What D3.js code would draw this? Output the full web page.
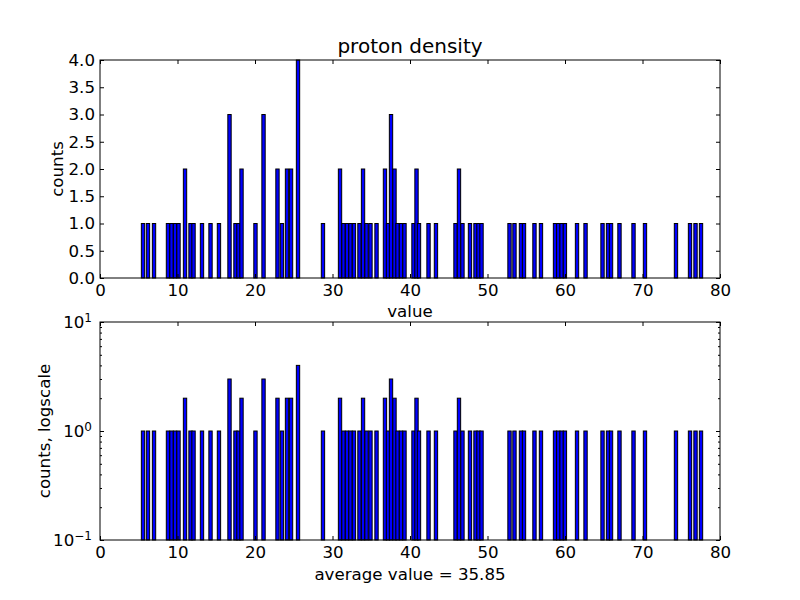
<!DOCTYPE html>
<html>
<head>
<meta charset="utf-8">
<script src="https://cdn.jsdelivr.net/npm/d3@7"></script>
<style>
  body { margin: 0; background: #fff; }
  svg { font-family: "DejaVu Sans", sans-serif; }
</style>
</head>
<body>
<svg id="chart" width="800" height="600"></svg>
<script>
// ---- data ----
const title = "proton density";
const binWidth = 0.43;
const binCenters = [
  5.55, 6.19, 6.97, 8.77, 9.23, 9.68, 10.13, 10.97, 11.68, 12.07, 13.16, 14.26, 15.35,
  16.71, 17.48, 17.87, 18.26, 20.06, 21.10, 22.90, 23.48, 24.13, 24.65, 25.55,
  28.77, 30.97, 31.42, 31.87, 32.32, 32.77, 33.48, 33.94, 34.39, 34.90, 35.68,
  36.77, 37.16, 37.55, 38.00, 38.39, 38.84, 39.29, 40.45, 40.84, 41.16, 42.39, 43.35,
  45.87, 46.32, 46.77, 47.74, 48.45, 48.84, 49.23,
  52.84, 53.48, 54.32, 54.71, 56.06, 56.90, 58.71, 59.13, 59.56, 59.99, 61.55, 62.65,
  64.84, 65.55, 65.94, 67.03, 68.84, 70.32, 74.32, 76.13, 76.84, 77.55
];
const binCounts = [
  1, 1, 1, 1, 1, 1, 1, 2, 1, 1, 1, 1, 1,
  3, 1, 1, 2, 1, 3, 2, 1, 2, 2, 4,
  1, 2, 1, 1, 1, 1, 1, 2, 1, 1, 1,
  2, 1, 3, 2, 1, 1, 1, 1, 2, 1, 1, 1,
  1, 2, 1, 1, 1, 1, 1,
  1, 1, 1, 1, 1, 1, 1, 1, 1, 1, 1, 1,
  1, 1, 1, 1, 1, 1, 1, 1, 1, 1
];
const xTicks = [0, 10, 20, 30, 40, 50, 60, 70, 80];
const yTicksLin = [0, 0.5, 1, 1.5, 2, 2.5, 3, 3.5, 4];
const yTicksLogMajor = [0.1, 1, 10];
const yTicksLogMinor = [0.2,0.3,0.4,0.5,0.6,0.7,0.8,0.9,2,3,4,5,6,7,8,9];
const averageLabel = "average value = 35.85";

const bins = binCenters.map((c, i) => ({ c, n: binCounts[i] }));

const svg = d3.select("#chart");
const fs = 16.67;

const L = 100, R = 720;
const x = d3.scaleLinear().domain([0, 80]).range([L, R]);

function frame(g, top, bottom) {
  g.append("rect").attr("x", L).attr("y", top).attr("width", R - L).attr("height", bottom - top)
    .attr("fill", "none").attr("stroke", "#000").attr("stroke-width", 1);
}
function styleAxis(sel) {
  sel.select(".domain").remove();
  sel.selectAll("text").attr("font-size", fs).attr("fill", "#000").attr("font-family", "DejaVu Sans");
  sel.selectAll("line").attr("stroke", "#000");
}
function xAxes(g, top, bottom) {
  g.append("g").attr("transform", `translate(0,${bottom})`)
    .call(d3.axisBottom(x).tickValues(xTicks).tickFormat(d3.format("d")).tickSizeInner(-4).tickSizeOuter(0).tickPadding(6))
    .call(styleAxis);
  g.append("g").attr("transform", `translate(0,${top})`)
    .call(d3.axisTop(x).tickValues(xTicks).tickFormat("").tickSizeInner(-4).tickSizeOuter(0))
    .call(styleAxis);
}

// ---- top panel ----
const T1 = 60, B1 = 278;
const y1 = d3.scaleLinear().domain([0, 4]).range([B1, T1]);
const g1 = svg.append("g");
g1.selectAll("rect.bar").data(bins).join("rect").attr("class", "bar")
  .attr("x", d => x(d.c - binWidth / 2))
  .attr("width", d => x(d.c + binWidth / 2) - x(d.c - binWidth / 2))
  .attr("y", d => y1(d.n))
  .attr("height", d => y1(0) - y1(d.n))
  .attr("fill", "#0000ff").attr("stroke", "#000").attr("stroke-width", 1);
g1.append("g").attr("transform", `translate(${L},0)`)
  .call(d3.axisLeft(y1).tickValues(yTicksLin).tickFormat(d3.format(".1f")).tickSizeInner(-4).tickSizeOuter(0).tickPadding(5))
  .call(styleAxis);
g1.append("g").attr("transform", `translate(${R},0)`)
  .call(d3.axisRight(y1).tickValues(yTicksLin).tickFormat("").tickSizeInner(-4).tickSizeOuter(0))
  .call(styleAxis);
xAxes(g1, T1, B1);
frame(g1, T1, B1);
svg.append("text").attr("x", 410).attr("y", 53).attr("text-anchor", "middle")
  .attr("font-size", 20).text(title);
svg.append("text").attr("x", 410).attr("y", 317).attr("text-anchor", "middle")
  .attr("font-size", fs).text("value");
svg.append("text").attr("transform", `translate(63,${(T1 + B1) / 2}) rotate(-90)`)
  .attr("text-anchor", "middle").attr("font-size", fs).text("counts");

// ---- bottom panel ----
const T2 = 322, B2 = 540;
const y2 = d3.scaleLog().domain([0.1, 10]).range([B2, T2]);
const g2 = svg.append("g");
g2.selectAll("rect.bar").data(bins).join("rect").attr("class", "bar")
  .attr("x", d => x(d.c - binWidth / 2))
  .attr("width", d => x(d.c + binWidth / 2) - x(d.c - binWidth / 2))
  .attr("y", d => y2(d.n))
  .attr("height", d => y2(0.1) - y2(d.n))
  .attr("fill", "#0000ff").attr("stroke", "#000").attr("stroke-width", 1);
const lyMaj = g2.append("g").attr("transform", `translate(${L},0)`)
  .call(d3.axisLeft(y2).tickValues(yTicksLogMajor).tickFormat(d => String(Math.round(Math.log10(d))))
    .tickSizeInner(-4).tickSizeOuter(0).tickPadding(8))
  .call(styleAxis);
lyMaj.selectAll(".tick text").each(function() {
  const t = d3.select(this);
  const e = t.text();
  t.text(null).attr("text-anchor", "end");
  t.append("tspan").text("10");
  t.append("tspan").attr("dy", "-0.45em").attr("font-size", fs * 0.72).text(e.replace("-", "\u2212"));
});
g2.append("g").attr("transform", `translate(${L},0)`)
  .call(d3.axisLeft(y2).tickValues(yTicksLogMinor).tickFormat("").tickSizeInner(-2).tickSizeOuter(0))
  .call(styleAxis);
g2.append("g").attr("transform", `translate(${R},0)`)
  .call(d3.axisRight(y2).tickValues(yTicksLogMajor).tickFormat("").tickSizeInner(-4).tickSizeOuter(0))
  .call(styleAxis);
g2.append("g").attr("transform", `translate(${R},0)`)
  .call(d3.axisRight(y2).tickValues(yTicksLogMinor).tickFormat("").tickSizeInner(-2).tickSizeOuter(0))
  .call(styleAxis);
xAxes(g2, T2, B2);
frame(g2, T2, B2);
svg.append("text").attr("x", 410).attr("y", 580).attr("text-anchor", "middle")
  .attr("font-size", fs).text(averageLabel);
svg.append("text").attr("transform", `translate(50,${(T2 + B2) / 2}) rotate(-90)`)
  .attr("text-anchor", "middle").attr("font-size", fs).text("counts, logscale");
</script>
</body>
</html>
